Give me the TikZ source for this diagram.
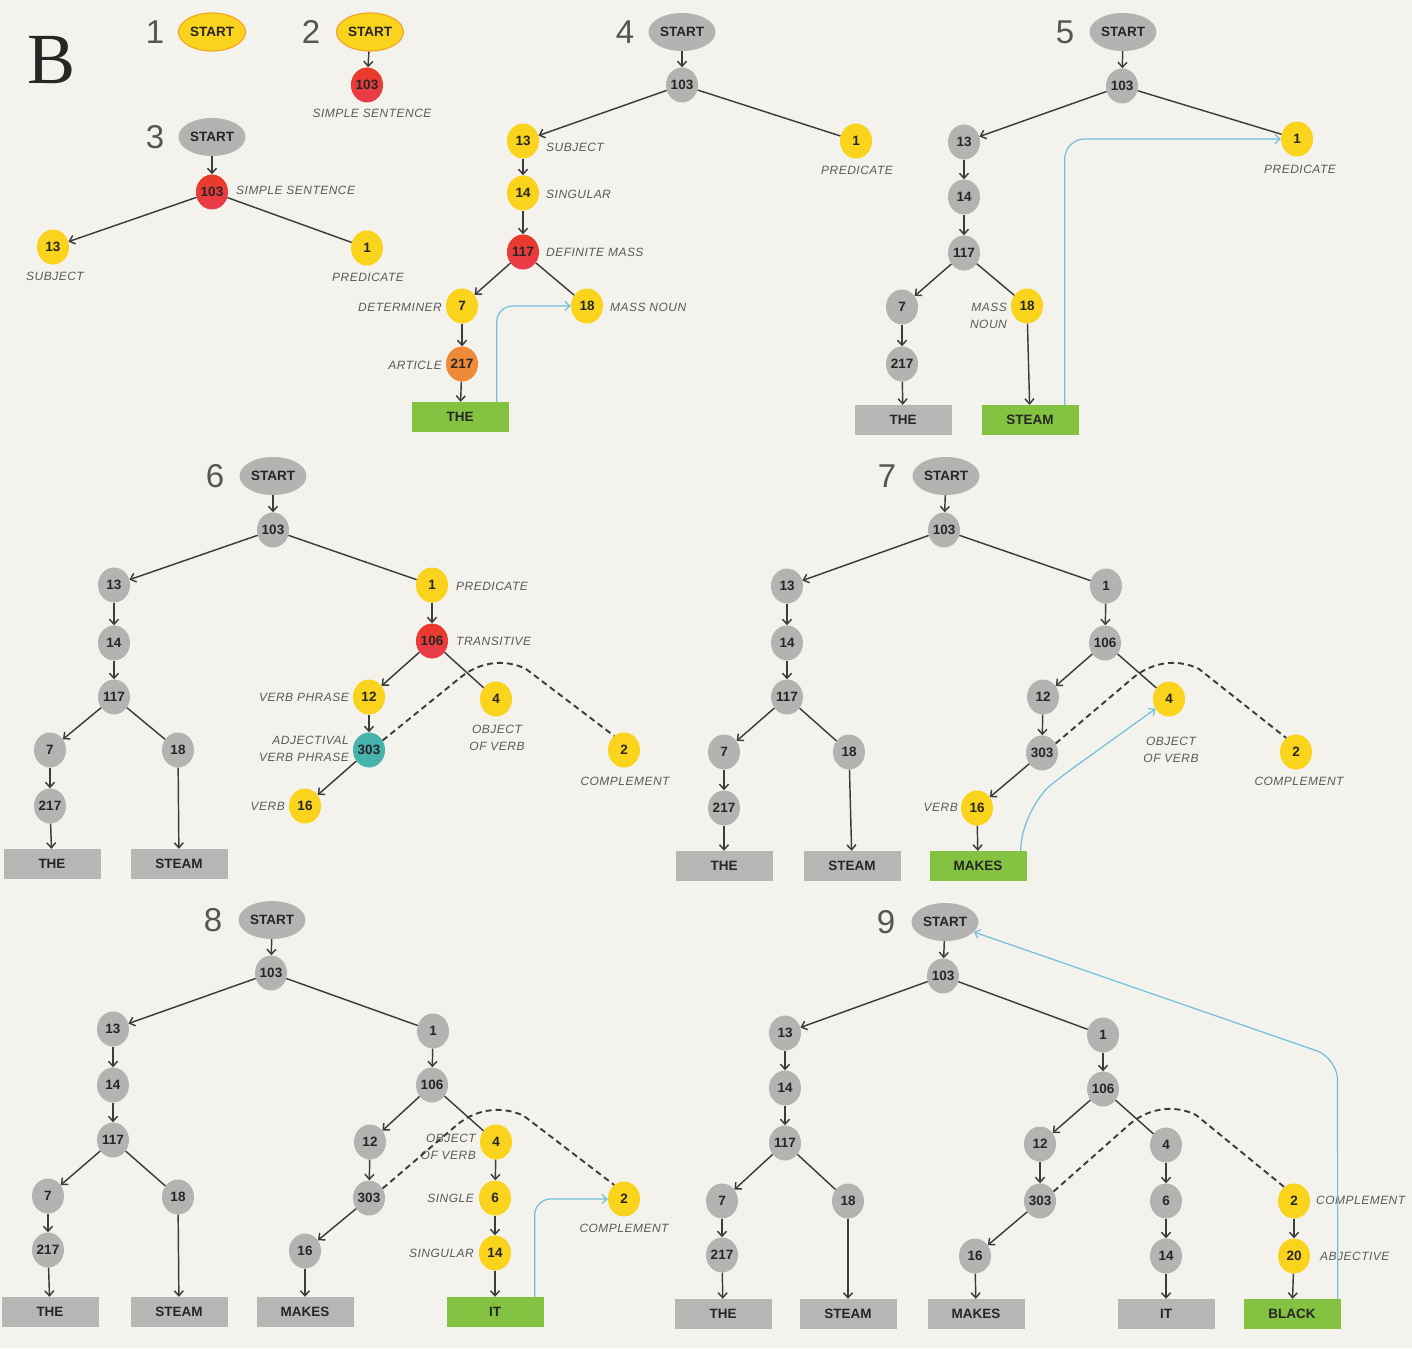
\documentclass[tikz,border=0pt]{standalone}
\usepackage{fontspec}
\setmainfont{Liberation Sans}
\newfontfamily\nodefam{Liberation Sans}
\newfontfamily\lblfam[LetterSpace=4]{Liberation Sans}
\newfontfamily\numfam{Liberation Sans}
\newfontfamily\bigfam{Liberation Serif}
\usetikzlibrary{shapes.geometric,arrows.meta,calc}

\definecolor{paper}{HTML}{F4F2EC}
\definecolor{ygold}{HTML}{F9D31C}
\definecolor{yedge}{HTML}{F2A72A}
\definecolor{orng}{HTML}{EE8A38}
\definecolor{redtop}{HTML}{EA3A26}
\definecolor{redbot}{HTML}{EA3C50}
\definecolor{grayn}{HTML}{B5B3B1}
\definecolor{grbox}{HTML}{B7B6B4}
\definecolor{grnbox}{HTML}{84C241}
\definecolor{tealn}{HTML}{46B3AD}
\definecolor{ink}{HTML}{262626}
\definecolor{lblc}{HTML}{5A5A5A}
\definecolor{numc}{HTML}{555555}
\definecolor{linec}{HTML}{3C3C3C}
\definecolor{cyanl}{HTML}{6EC0DC}

\tikzset{
  cnode/.style={ellipse, inner sep=0pt, minimum width=32pt, minimum height=35pt,
    text=ink, font=\nodefam\bfseries\fontsize{13.5}{14}\selectfont},
  cg/.style={cnode, fill=grayn},
  cy/.style={cnode, fill=ygold},
  cr/.style={cnode, top color=redtop, bottom color=redbot},
  co/.style={cnode, fill=orng},
  ct/.style={cnode, fill=tealn},
  snode/.style={ellipse, inner sep=0pt, minimum width=67pt, minimum height=38pt,
    text=ink, font=\nodefam\bfseries\fontsize{13.5}{14}\selectfont},
  sg/.style={snode, fill=grayn},
  sy/.style={snode, fill=ygold, draw=yedge, line width=1.2pt},
  wbox/.style={rectangle, inner sep=0pt, minimum width=97pt, minimum height=30pt,
    text=ink, font=\nodefam\bfseries\fontsize{13.5}{14}\selectfont},
  wg/.style={wbox, fill=grbox},
  wn/.style={wbox, fill=grnbox},
  lbl/.style={inner sep=0pt, text=lblc, font=\lblfam\itshape\fontsize{12}{17}\selectfont},
  pnum/.style={inner sep=0pt, text=numc, font=\numfam\fontsize{33}{33}\selectfont},
  link/.style={draw=linec, line width=1.45pt},
  arr/.style={link, -{Straight Barb[length=5pt,width=9pt]}},
  hop/.style={draw=cyanl, line width=1.2pt, -{Straight Barb[length=5pt,width=9pt]}, rounded corners=16pt},
  dlink/.style={draw=linec, line width=1.9pt, dash pattern=on 6pt off 4pt},
}

\begin{document}
\begin{tikzpicture}[x=1pt,y=-1pt]
\fill[paper] (0,0) rectangle (1412,1348);
\useasboundingbox (0,0) rectangle (1412,1348);

\node[inner sep=0pt, text=ink, font=\bigfam\fontsize{72}{72}\selectfont] (bigB) at (52,60) {B};

% ---------- 1 ----------
\node[pnum] (n1) at (155,32) {1};
\node[sy] (s1) at (212,32) {START};

% ---------- 2 ----------
\node[pnum] (n2) at (311,32) {2};
\node[sy] (s2) at (370,32) {START};
\node[cr] (p2a) at (367,85) {103};
\node[lbl] (l2a) at (372,113) {SIMPLE SENTENCE};
\draw[arr] (s2) -- (p2a);

% ---------- 3 ----------
\node[pnum] (n3) at (155,137) {3};
\node[sg] (s3) at (212,137) {START};
\node[cr] (p3a) at (212,192) {103};
\node[cy] (p3b) at (53,247) {13};
\node[cy] (p3c) at (367,248) {1};
\node[lbl, anchor=west] (l3a) at (236,190) {SIMPLE SENTENCE};
\node[lbl] (l3b) at (55,276) {SUBJECT};
\node[lbl] (l3c) at (368,277) {PREDICATE};
\draw[arr] (s3) -- (p3a);
\draw[arr] (p3a) -- (p3b);
\draw[link] (p3a) -- (p3c);

% ---------- 4 ----------
\node[pnum] (n4) at (625,32) {4};
\node[sg] (s4) at (682,32) {START};
\node[cg] (p4a) at (682,85) {103};
\node[cy] (p4b) at (523,141) {13};
\node[cy] (p4c) at (856,141) {1};
\node[cy] (p4d) at (523,193) {14};
\node[cr] (p4e) at (523,252) {117};
\node[cy] (p4f) at (462,306) {7};
\node[cy] (p4g) at (587,306) {18};
\node[co] (p4h) at (462,364) {217};
\node[wn] (p4w) at (460,417) {THE};
\node[lbl, anchor=west] (l4b) at (546,147) {SUBJECT};
\node[lbl] (l4c) at (857,170) {PREDICATE};
\node[lbl, anchor=west] (l4d) at (546,194) {SINGULAR};
\node[lbl, anchor=west] (l4e) at (546,252) {DEFINITE MASS};
\node[lbl, anchor=east] (l4f) at (442,307) {DETERMINER};
\node[lbl, anchor=west] (l4g) at (610,307) {MASS NOUN};
\node[lbl, anchor=east] (l4h) at (442,365) {ARTICLE};
\draw[arr] (s4) -- (p4a);
\draw[arr] (p4a) -- (p4b);
\draw[link] (p4a) -- (p4c);
\draw[arr] (p4b) -- (p4d);
\draw[arr] (p4d) -- (p4e);
\draw[arr] (p4e) -- (p4f);
\draw[link] (p4e) -- (p4g);
\draw[arr] (p4f) -- (p4h);
\draw[arr] (p4h) -- (p4w);
\draw[hop] ([xshift=-12pt]p4w.north east) |- (p4g);

% ---------- 5 ----------
\node[pnum] (n5) at (1065,32) {5};
\node[sg] (s5) at (1123,32) {START};
\node[cg] (p5a) at (1122,86) {103};
\node[cg] (p5b) at (964,142) {13};
\node[cy] (p5c) at (1297,139) {1};
\node[cg] (p5d) at (964,197) {14};
\node[cg] (p5e) at (964,253) {117};
\node[cg] (p5f) at (902,307) {7};
\node[cy] (p5g) at (1027,306) {18};
\node[cg] (p5h) at (902,364) {217};
\node[wg] (p5w) at (903,420) {THE};
\node[wn] (p5v) at (1030,420) {STEAM};
\node[lbl] (l5c) at (1300,169) {PREDICATE};
\node[lbl, anchor=east, align=right] (l5g) at (1007,316) {MASS\\NOUN};
\draw[arr] (s5) -- (p5a);
\draw[arr] (p5a) -- (p5b);
\draw[link] (p5a) -- (p5c);
\draw[arr] (p5b) -- (p5d);
\draw[arr] (p5d) -- (p5e);
\draw[arr] (p5e) -- (p5f);
\draw[link] (p5e) -- (p5g);
\draw[arr] (p5f) -- (p5h);
\draw[arr] (p5h) -- (p5w);
\draw[arr] (p5g) -- (p5v);
\draw[hop, rounded corners=20pt] ([xshift=-14pt]p5v.north east) |- (p5c);

% ---------- 6 ----------
\node[pnum] (n6) at (215,476) {6};
\node[sg] (s6) at (273,476) {START};
\node[cg] (p6a) at (273,530) {103};
\node[cg] (p6b) at (114,585) {13};
\node[cy] (p6c) at (432,585) {1};
\node[cg] (p6d) at (114,643) {14};
\node[cg] (p6e) at (114,697) {117};
\node[cg] (p6f) at (50,750) {7};
\node[cg] (p6g) at (178,750) {18};
\node[cg] (p6h) at (50,806) {217};
\node[wg] (p6w) at (52,864) {THE};
\node[wg] (p6v) at (179,864) {STEAM};
\node[cr] (p6i) at (432,641) {106};
\node[cy] (p6j) at (369,697) {12};
\node[cy] (p6k) at (496,699) {4};
\node[ct] (p6l) at (369,750) {303};
\node[cy] (p6m) at (305,806) {16};
\node[cy] (p6n) at (624,750) {2};
\node[lbl, anchor=west] (l6c) at (456,586) {PREDICATE};
\node[lbl, anchor=west] (l6i) at (456,641) {TRANSITIVE};
\node[lbl, anchor=east] (l6j) at (349,697) {VERB PHRASE};
\node[lbl, align=center] (l6k) at (497,738) {OBJECT\\OF VERB};
\node[lbl, anchor=east, align=right] (l6l) at (349,749) {ADJECTIVAL\\VERB PHRASE};
\node[lbl, anchor=east] (l6m) at (285,806) {VERB};
\node[lbl] (l6n) at (625,781) {COMPLEMENT};
\draw[arr] (s6) -- (p6a);
\draw[arr] (p6a) -- (p6b);
\draw[link] (p6a) -- (p6c);
\draw[arr] (p6b) -- (p6d);
\draw[arr] (p6d) -- (p6e);
\draw[arr] (p6e) -- (p6f);
\draw[link] (p6e) -- (p6g);
\draw[arr] (p6f) -- (p6h);
\draw[arr] (p6h) -- (p6w);
\draw[arr] (p6g) -- (p6v);
\draw[arr] (p6c) -- (p6i);
\draw[arr] (p6i) -- (p6j);
\draw[link] (p6i) -- (p6k);
\draw[arr] (p6j) -- (p6l);
\draw[arr] (p6l) -- (p6m);
\draw[dlink] (p6l.35) -- ($(p6k)+(-35,-22)$) .. controls ($(p6k)+(-15,-38)$) and ($(p6k)+(10,-40)$) .. ($(p6k)+(30,-30)$) -- (p6n.125);

% ---------- 7 ----------
\node[pnum] (n7) at (887,476) {7};
\node[sg] (s7) at (946,476) {START};
\node[cg] (p7a) at (944,530) {103};
\node[cg] (p7b) at (787,586) {13};
\node[cg] (p7c) at (1106,586) {1};
\node[cg] (p7d) at (787,643) {14};
\node[cg] (p7e) at (787,697) {117};
\node[cg] (p7f) at (724,752) {7};
\node[cg] (p7g) at (849,752) {18};
\node[cg] (p7h) at (724,808) {217};
\node[wg] (p7w) at (724,866) {THE};
\node[wg] (p7v) at (852,866) {STEAM};
\node[cg] (p7i) at (1105,643) {106};
\node[cg] (p7j) at (1043,697) {12};
\node[cy] (p7k) at (1169,699) {4};
\node[cg] (p7l) at (1042,753) {303};
\node[cy] (p7m) at (977,808) {16};
\node[wn] (p7x) at (978,866) {MAKES};
\node[cy] (p7n) at (1296,752) {2};
\node[lbl, align=center] (l7k) at (1171,750) {OBJECT\\OF VERB};
\node[lbl, anchor=east] (l7m) at (958,807) {VERB};
\node[lbl] (l7n) at (1299,781) {COMPLEMENT};
\draw[arr] (s7) -- (p7a);
\draw[arr] (p7a) -- (p7b);
\draw[link] (p7a) -- (p7c);
\draw[arr] (p7b) -- (p7d);
\draw[arr] (p7d) -- (p7e);
\draw[arr] (p7e) -- (p7f);
\draw[link] (p7e) -- (p7g);
\draw[arr] (p7f) -- (p7h);
\draw[arr] (p7h) -- (p7w);
\draw[arr] (p7g) -- (p7v);
\draw[arr] (p7c) -- (p7i);
\draw[arr] (p7i) -- (p7j);
\draw[link] (p7i) -- (p7k);
\draw[arr] (p7j) -- (p7l);
\draw[arr] (p7l) -- (p7m);
\draw[arr] (p7m) -- (p7x);
\draw[dlink] (p7l.35) -- ($(p7k)+(-35,-22)$) .. controls ($(p7k)+(-15,-38)$) and ($(p7k)+(10,-40)$) .. ($(p7k)+(30,-30)$) -- (p7n.125);
\draw[hop] ([xshift=-6pt]p7x.north east) .. controls +(0,-30) and +(-20,16) .. (1062,776) -- (p7k);

% ---------- 8 ----------
\node[pnum] (n8) at (213,920) {8};
\node[sg] (s8) at (272,920) {START};
\node[cg] (p8a) at (271,973) {103};
\node[cg] (p8b) at (113,1029) {13};
\node[cg] (p8c) at (433,1031) {1};
\node[cg] (p8d) at (113,1085) {14};
\node[cg] (p8e) at (113,1140) {117};
\node[cg] (p8f) at (48,1196) {7};
\node[cg] (p8g) at (178,1197) {18};
\node[cg] (p8h) at (48,1250) {217};
\node[wg] (p8w) at (50,1312) {THE};
\node[wg] (p8v) at (179,1312) {STEAM};
\node[cg] (p8i) at (432,1085) {106};
\node[cg] (p8j) at (370,1142) {12};
\node[cy] (p8k) at (496,1142) {4};
\node[cg] (p8l) at (369,1198) {303};
\node[cg] (p8m) at (305,1251) {16};
\node[wg] (p8x) at (305,1312) {MAKES};
\node[cy] (p8o) at (495,1198) {6};
\node[cy] (p8p) at (495,1253) {14};
\node[wn] (p8y) at (495,1312) {IT};
\node[cy] (p8n) at (624,1199) {2};
\node[lbl, anchor=east, align=right] (l8k) at (476,1147) {OBJECT\\OF VERB};
\node[lbl, anchor=east] (l8o) at (474,1198) {SINGLE};
\node[lbl, anchor=east] (l8p) at (474,1253) {SINGULAR};
\node[lbl] (l8n) at (624,1228) {COMPLEMENT};
\draw[arr] (s8) -- (p8a);
\draw[arr] (p8a) -- (p8b);
\draw[link] (p8a) -- (p8c);
\draw[arr] (p8b) -- (p8d);
\draw[arr] (p8d) -- (p8e);
\draw[arr] (p8e) -- (p8f);
\draw[link] (p8e) -- (p8g);
\draw[arr] (p8f) -- (p8h);
\draw[arr] (p8h) -- (p8w);
\draw[arr] (p8g) -- (p8v);
\draw[arr] (p8c) -- (p8i);
\draw[arr] (p8i) -- (p8j);
\draw[link] (p8i) -- (p8k);
\draw[arr] (p8j) -- (p8l);
\draw[arr] (p8l) -- (p8m);
\draw[arr] (p8m) -- (p8x);
\draw[arr] (p8k) -- (p8o);
\draw[arr] (p8o) -- (p8p);
\draw[arr] (p8p) -- (p8y);
\draw[dlink] (p8l.35) -- ($(p8k)+(-38,-18)$) .. controls ($(p8k)+(-18,-34)$) and ($(p8k)+(8,-36)$) .. ($(p8k)+(28,-26)$) -- (p8n.125);
\draw[hop] ([xshift=-9pt]p8y.north east) |- (p8n);

% ---------- 9 ----------
\node[pnum] (n9) at (886,922) {9};
\node[sg] (s9) at (945,922) {START};
\node[cg] (p9a) at (943,976) {103};
\node[cg] (p9b) at (785,1033) {13};
\node[cg] (p9c) at (1103,1035) {1};
\node[cg] (p9d) at (785,1088) {14};
\node[cg] (p9e) at (785,1143) {117};
\node[cg] (p9f) at (722,1201) {7};
\node[cg] (p9g) at (848,1201) {18};
\node[cg] (p9h) at (722,1255) {217};
\node[wg] (p9w) at (723,1314) {THE};
\node[wg] (p9v) at (848,1314) {STEAM};
\node[cg] (p9i) at (1103,1089) {106};
\node[cg] (p9j) at (1040,1144) {12};
\node[cg] (p9k) at (1166,1145) {4};
\node[cg] (p9l) at (1040,1201) {303};
\node[cg] (p9m) at (975,1256) {16};
\node[wg] (p9x) at (976,1314) {MAKES};
\node[cg] (p9o) at (1166,1201) {6};
\node[cg] (p9p) at (1166,1256) {14};
\node[wg] (p9y) at (1166,1314) {IT};
\node[cy] (p9n) at (1294,1201) {2};
\node[cy] (p9q) at (1294,1256) {20};
\node[wn] (p9z) at (1292,1314) {BLACK};
\node[lbl, anchor=west] (l9n) at (1316,1200) {COMPLEMENT};
\node[lbl, anchor=west] (l9q) at (1320,1256) {ABJECTIVE};
\draw[arr] (s9) -- (p9a);
\draw[arr] (p9a) -- (p9b);
\draw[link] (p9a) -- (p9c);
\draw[arr] (p9b) -- (p9d);
\draw[arr] (p9d) -- (p9e);
\draw[arr] (p9e) -- (p9f);
\draw[link] (p9e) -- (p9g);
\draw[arr] (p9f) -- (p9h);
\draw[arr] (p9h) -- (p9w);
\draw[arr] (p9g) -- (p9v);
\draw[arr] (p9c) -- (p9i);
\draw[arr] (p9i) -- (p9j);
\draw[link] (p9i) -- (p9k);
\draw[arr] (p9j) -- (p9l);
\draw[arr] (p9l) -- (p9m);
\draw[arr] (p9m) -- (p9x);
\draw[arr] (p9k) -- (p9o);
\draw[arr] (p9o) -- (p9p);
\draw[arr] (p9p) -- (p9y);
\draw[arr] (p9n) -- (p9q);
\draw[arr] (p9q) -- (p9z);
\draw[dlink] (p9l.35) -- ($(p9k)+(-35,-22)$) .. controls ($(p9k)+(-15,-38)$) and ($(p9k)+(10,-40)$) .. ($(p9k)+(30,-30)$) -- (p9n.125);
\draw[hop, rounded corners=22pt] ([xshift=-3pt]p9z.north east) -- (1337.5,1058) -- (s9);
\end{tikzpicture}
\end{document}
